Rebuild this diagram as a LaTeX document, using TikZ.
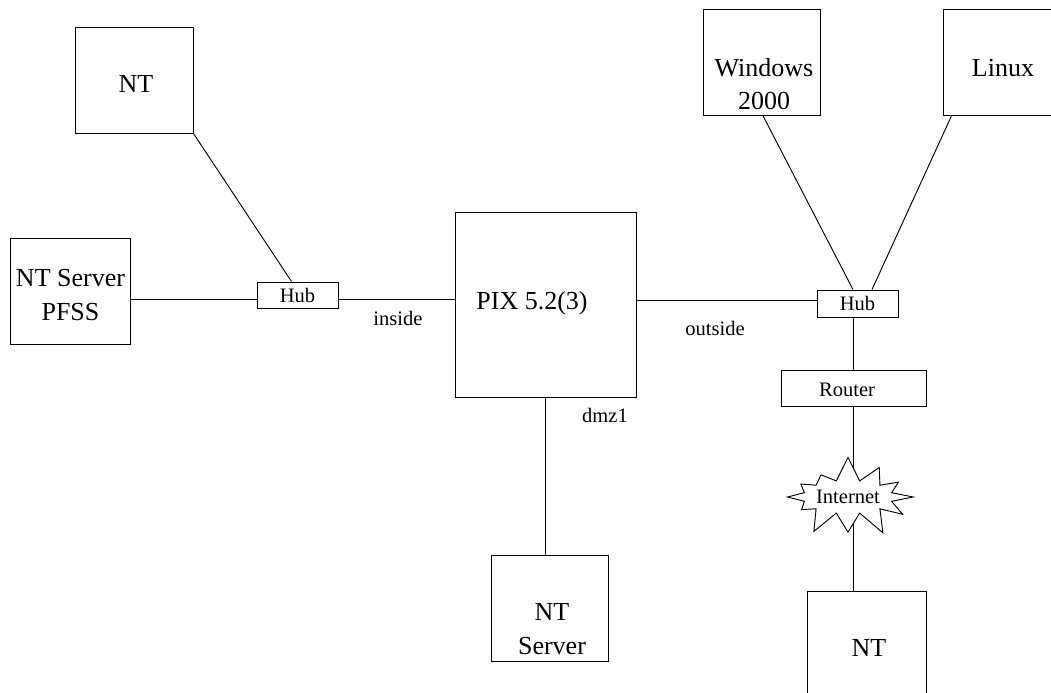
\documentclass[tikz,border=0pt]{standalone}
\usepackage{fontspec}
\setmainfont{Liberation Serif}
\usetikzlibrary{shapes.symbols,backgrounds,calc}
\begin{document}
\begin{tikzpicture}[x=0.75pt,y=-0.75pt,
  device/.style={draw,fill=white,line width=0.7pt,inner sep=0pt},
  big/.style={font=\fontsize{19.5}{25}\selectfont,align=center,inner sep=0pt},
  small/.style={font=\fontsize{15.4}{18}\selectfont,inner sep=0pt},
  link/.style={line width=0.7pt}]
\useasboundingbox (0,0) rectangle (1051,693);
% boxes
\node[device,minimum width=88.5pt,minimum height=79.5pt] (ntA) at (134,80) {};
\node[device,minimum width=90pt,minimum height=79.5pt] (pfss) at (70,291) {};
\node[device,small,minimum width=60.75pt,minimum height=19.5pt] (hubL) at (297.5,295) {Hub};
\node[device,minimum width=135.75pt,minimum height=138.75pt] (pix) at (545.5,304.5) {};
\node[device,minimum width=87.75pt,minimum height=79.5pt] (ntS) at (550,608) {};
\node[device,minimum width=87.75pt,minimum height=79.5pt] (win) at (761.5,62.3) {};
\node[device,minimum width=90pt,minimum height=79.5pt] (linux) at (1003,62.3) {};
\node[device,small,minimum width=60.75pt,minimum height=20.25pt] (hubR) at (857.5,303.5) {Hub};
\node[device,minimum width=108.75pt,minimum height=27pt] (router) at (853.5,388) {};
\node[device,small,shape=starburst,starburst points=12,starburst point height=19pt,
      random starburst=7,minimum width=87.75pt,minimum height=63pt] (inet) at (848,497) {Internet};
\node[device,minimum width=89.25pt,minimum height=79.5pt] (ntB) at (866.5,644) {};
% texts
\node[big] (tntA) at (136,84) {NT};
\node[big] (tpfss) at (70.5,295) {NT Server\\PFSS};
\node[big] (tpix) at (532,303) {PIX 5.2(3)};
\node[big] (tntS) at (552,629) {NT\\Server};
\node[big] (twin) at (764,84) {Windows\\2000};
\node[big] (tlinux) at (1003,68) {Linux};
\node[small] (trouter) at (847,390) {Router};
\node[big] (tntB) at (869,648) {NT};
\node[small] (inside) at (398,318) {inside};
\node[small] (outside) at (715,328) {outside};
\node[small] (dmz) at (605,415) {dmz1};
% helper coordinates
\coordinate (rowL) at (0,299);
\coordinate (rowR) at (0,300);
\coordinate (vcol) at (853,0);
% connectors
\begin{scope}[on background layer]
\fill[white] (0,0) rectangle (1051,693);
\draw[link] (ntA.south east) -- ($(hubL.north)+(-6,0)$);
\draw[link] (pfss.east |- rowL) -- (hubL.west |- rowL);
\draw[link] (hubL.east |- rowL) -- (pix.west |- rowL);
\draw[link] (pix.east |- rowR) -- (hubR.west |- rowR);
\draw[link] (pix.south) -- (pix.south |- ntS.north);
\draw[link] ($(win.south)+(1.5,0)$) -- ($(hubR.north)+(-4.5,0)$);
\draw[link] ($(linux.south west)+(9,0)$) -- ($(hubR.north)+(14.5,0)$);
\draw[link] (hubR.south -| vcol) -- (router.north -| vcol);
\draw[link] (router.south -| vcol) -- (vcol |- inet.center);
\draw[link] (vcol |- inet.center) -- (ntB.north -| vcol);
\end{scope}
\end{tikzpicture}
\end{document}
